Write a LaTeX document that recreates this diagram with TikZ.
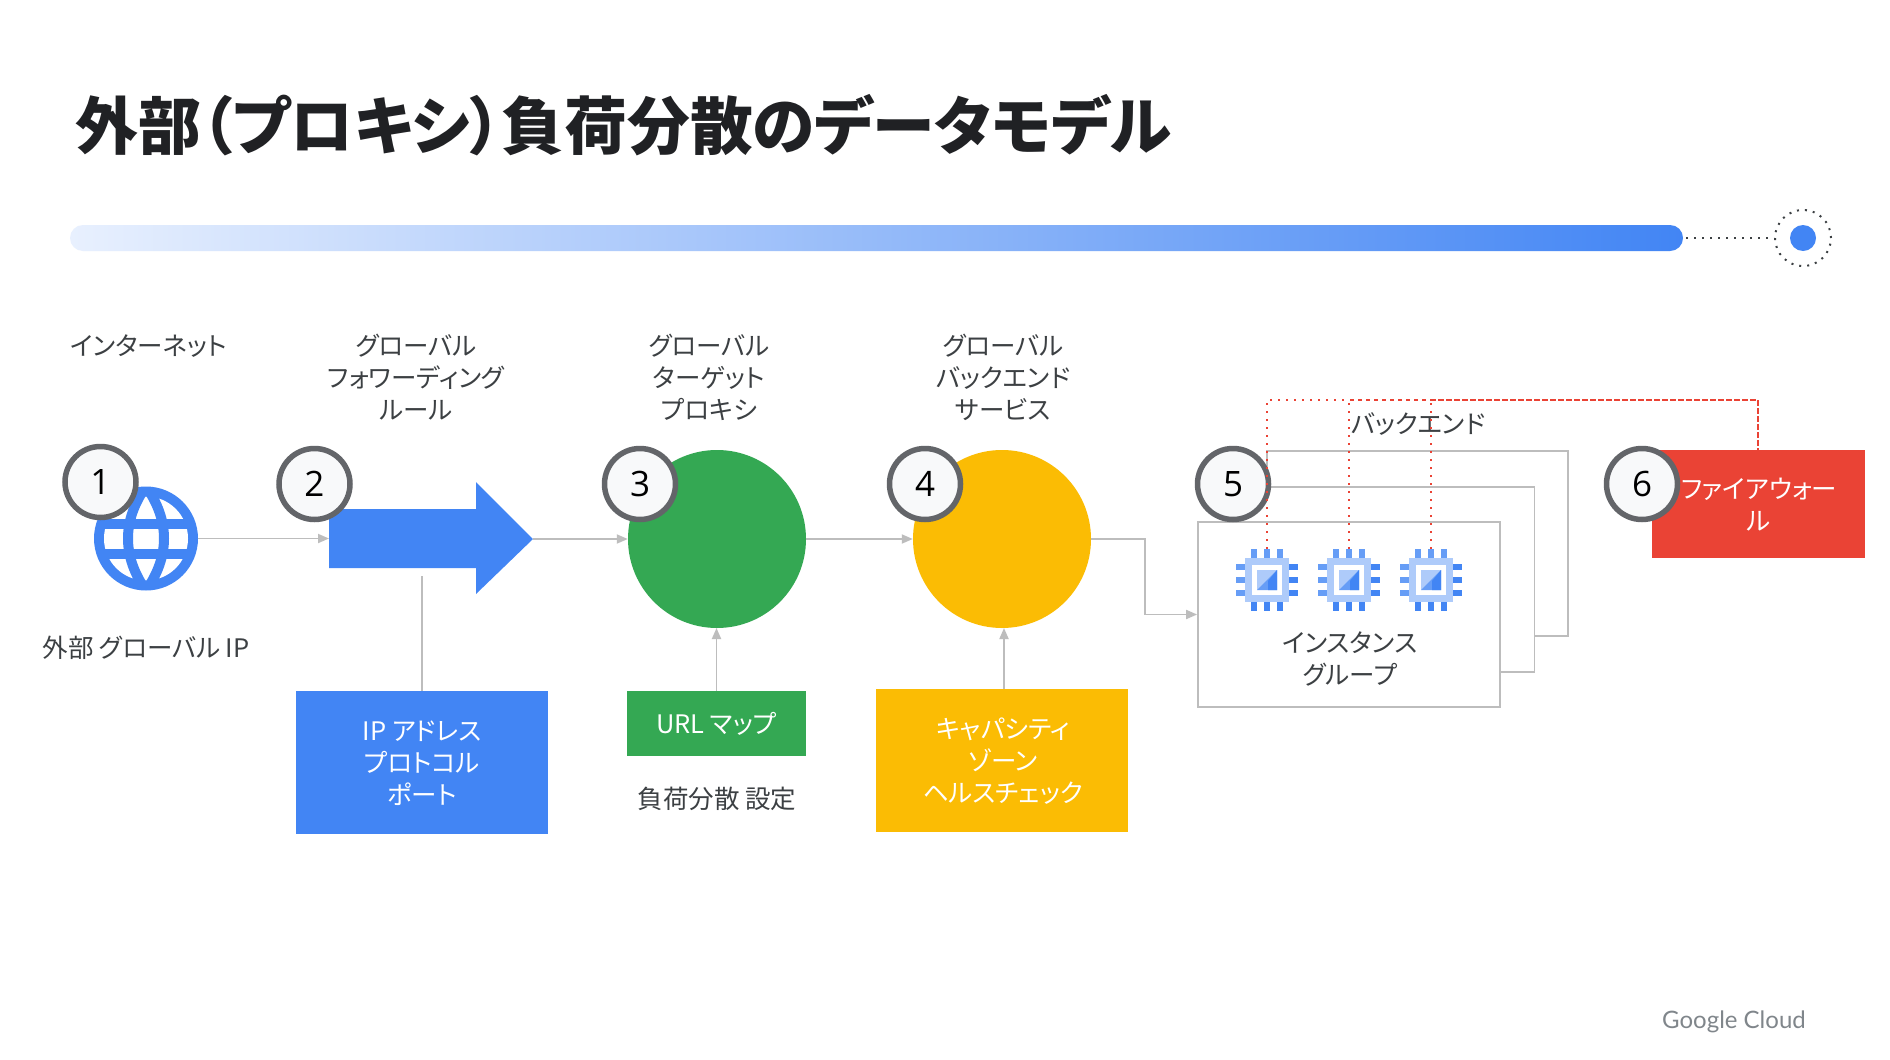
\documentclass[tikz,border=0pt]{standalone}
\usepackage{fontspec}
\setmainfont[RawFeature=+palt]{Noto Sans CJK JP}
\newfontfamily\brandfont{Lato}
\newfontfamily\digitfont{Open Sans}
\usetikzlibrary{arrows.meta,calc}
\definecolor{gblue}{HTML}{4285F4}
\definecolor{gblueMid}{HTML}{669DF6}
\definecolor{gblueLight}{HTML}{AECBFA}
\definecolor{gblueFaint}{HTML}{E8F0FE}
\definecolor{ggreen}{HTML}{34A853}
\definecolor{gyellow}{HTML}{FBBC04}
\definecolor{gred}{HTML}{EA4335}
\definecolor{ink}{HTML}{3C4043}
\definecolor{headingInk}{HTML}{202124}
\definecolor{badgeRing}{HTML}{636569}
\definecolor{badgeFill}{HTML}{F8F9FA}
\definecolor{wire}{HTML}{BDBDBD}
\definecolor{brandGrey}{HTML}{80868B}
\tikzset{
  x=1pt,y=-1pt,
  caption/.style={align=center,text=ink,inner sep=0pt,font=\fontsize{25.5}{32}\selectfont},
  filledbox/.style={draw=none,minimum width=#1,inner sep=0pt},
  boxtext/.style={text=white,align=center,inner sep=0pt,font=\fontsize{25.5}{32}\selectfont},
  badge/.style={circle,draw=badgeRing,fill=badgeFill,line width=5.5pt,minimum size=71pt,inner sep=0pt,text=black,font=\digitfont\fontsize{35}{35}\selectfont},
  bigdisc/.style={circle,minimum size=178pt,inner sep=0pt},
  stack/.style={draw=wire,fill=white,line width=1.8pt,inner sep=0pt},
  link/.style={draw=wire,line width=1.8pt,-{Triangle[length=11pt,width=9pt]}},
  stem/.style={draw=wire,line width=1.8pt},
  firewire/.style={draw=gred,line width=1.8pt,dash pattern=on 2pt off 6pt},
  marker/.style={draw=ink,line width=2pt,dash pattern=on 2pt off 6pt}
}
% Processor chip icon drawn around a named, invisible node
\newcommand{\chipicon}[3]{%
  \node[minimum size=62pt,inner sep=0pt] (#3) at (#1,#2) {};
  \begin{scope}[shift={(#1,#2)}]
    \foreach \d in {-13,0,13}{
      \fill[gblueMid] (\d-3,-31) rectangle (\d+3,-22);
      \fill[gblue] (\d-3,22) rectangle (\d+3,31);
      \fill[gblueMid] (-31,\d-3) rectangle (-22,\d+3);
      \fill[gblue] (22,\d-3) rectangle (31,\d+3);
    }
    \fill[gblueLight] (-22,-22) rectangle (22,22);
    \fill[white] (-15,-15) rectangle (15,15);
    \fill[gblueLight] (-10,-10) rectangle (10,10);
    \fill[gblueMid] (10,-10) -- (10,10) -- (-10,10) -- cycle;
    \fill[gblue] (10,-10) -- (10,10) -- (1,10) -- (1,1) -- cycle;
  \end{scope}}
\begin{document}
\begin{tikzpicture}
\useasboundingbox (0,0) rectangle (1890,1060);
\fill[white] (0,0) rectangle (1890,1060);

% Heading
\node[anchor=west,inner sep=0pt,text=headingInk,font=\bfseries\fontsize{62.8}{70}\selectfont] (heading) at (75,125) {外部（プロキシ）負荷分散のデータモデル};

% Progress bar with its end marker
\shade[left color=gblueFaint,right color=gblue,rounded corners=13pt] (70,225) rectangle (1683,251);
\node[circle,fill=gblue,minimum size=26pt,inner sep=0pt] (dot) at (1803,238) {};
\node[circle,minimum size=56pt,inner sep=0pt,marker] (ring) at (1803,238) {};
\coordinate (barEnd) at (1686,238);
\draw[marker] (barEnd) -- (ring.west);

% Internet globe
\node[circle,fill=gblue,minimum size=104pt,inner sep=0pt] (globe) at (146,538.5) {};
\begin{scope}[shift={(146,538.5)}]
  \fill[white] (0,0) circle (42pt);
  \begin{scope}
    \clip (0,0) circle (46pt);
    \draw[gblue,line width=10pt] (0,-52) .. controls (-24,-18) and (-24,18) .. (0,52);
    \draw[gblue,line width=10pt] (0,-52) .. controls (24,-18) and (24,18) .. (0,52);
    \draw[gblue,line width=10pt] (-50,-15) -- (50,-15);
    \draw[gblue,line width=10pt] (-50,15) -- (50,15);
  \end{scope}
\end{scope}

% Forwarding rule arrow
\coordinate (fwdTail) at (329,538.5);
\coordinate (fwdTip) at (533,539);
\coordinate (fwdStemTop) at (422,576);
\fill[gblue] (329,509) -- (476,509) -- (476,482) -- (fwdTip) -- (476,594) -- (476,568) -- (329,568) -- cycle;

% Proxy and backend service discs
\node[bigdisc,fill=ggreen] (proxy) at (717,539) {};
\node[bigdisc,fill=gyellow] (service) at (1002,539) {};

% Configuration boxes
\node[filledbox=252pt,fill=gblue,minimum height=143pt] (addr) at (422,762.5) {};
\node[boxtext] (addrText) at (422,763.5) {IP アドレス\\プロトコル\\ポート};
\node[filledbox=179pt,fill=ggreen,minimum height=65pt] (urlmap) at (716.5,723.5) {};
\node[boxtext] (urlText) at (716.5,723.5) {URL マップ};
\node[filledbox=252pt,fill=gyellow,minimum height=143pt] (capacity) at (1002,760.5) {};
\node[boxtext] (capText) at (1003,761) {キャパシティ\\ゾーン\\ヘルスチェック};
\node[filledbox=213pt,fill=gred,minimum height=108pt] (firewall) at (1758.5,504) {};
\node[boxtext] (fwText) at (1759,505) {ファイアウォー\\ル};

% Stack of instance groups, back to front
\node[stack,minimum width=301pt,minimum height=185pt] (groupC) at (1417.5,543.5) {};
\node[stack,minimum width=301pt,minimum height=185pt] (groupB) at (1384,579.5) {};
\node[stack,minimum width=302pt,minimum height=185pt] (groupA) at (1349,614.5) {};

% Connectors
\draw[link] (globe.east) -- (fwdTail);
\draw[link] (fwdTip) -- (proxy.west);
\draw[link] (proxy.east) -- (service.west);
\draw[link] (service.east) -- (1145,539) |- (groupA.west);
\draw[stem] (addr.north) -- (fwdStemTop);
\draw[link] (urlmap.north) -- (716.5,628);
\draw[link] (capacity.north -| 1004,0) -- (1004,628);

% Instances
\chipicon{1267}{580}{chipA}
\chipicon{1349}{580}{chipB}
\chipicon{1431}{580}{chipC}

% Captions
\node[caption] (lblInternet) at (149,346) {インターネット};
\node[caption] (lblRule) at (416,377.5) {グローバル\\フォワーディング\\ルール};
\node[caption] (lblIp) at (146,647.5) {外部 グローバル IP};
\node[caption] (lblProxy) at (709,377.5) {グローバル\\ターゲット\\プロキシ};
\node[caption] (lblLb) at (717,798.5) {負荷分散 設定};
\node[caption] (lblService) at (1003,377.5) {グローバル\\バックエンド\\サービス};
\node[caption] (lblBackend) at (1418,424) {バックエンド};
\node[caption] (lblGroup) at (1350,658.5) {インスタンス\\グループ};

% Numbered badges
\node[badge] (n1) at (100.5,482) {1};
\node[badge] (n2) at (314.5,484) {2};
\node[badge] (n3) at (640,484) {3};
\node[badge] (n4) at (925,484) {4};
\node[badge] (n5) at (1233,484) {5};
\node[badge] (n6) at (1642,484) {6};

% Firewall links from each instance; their dots interleave along the shared run
\coordinate (busCorner) at (1758,400);
\draw[firewire] (chipA.north) -- (1267,400) -- (busCorner) -- (firewall.north -| busCorner);
\draw[firewire] (chipB.north) -- (1349,400) -- (busCorner) -- (firewall.north -| busCorner);
\draw[firewire] (chipC.north) -- (1431,400) -- (busCorner) -- (firewall.north -| busCorner);

% Brand mark
\node[text=brandGrey,inner sep=0pt,font=\brandfont\fontsize{24}{30}\selectfont] (brand) at (1734,1022) {Google Cloud};
\end{tikzpicture}
\end{document}
